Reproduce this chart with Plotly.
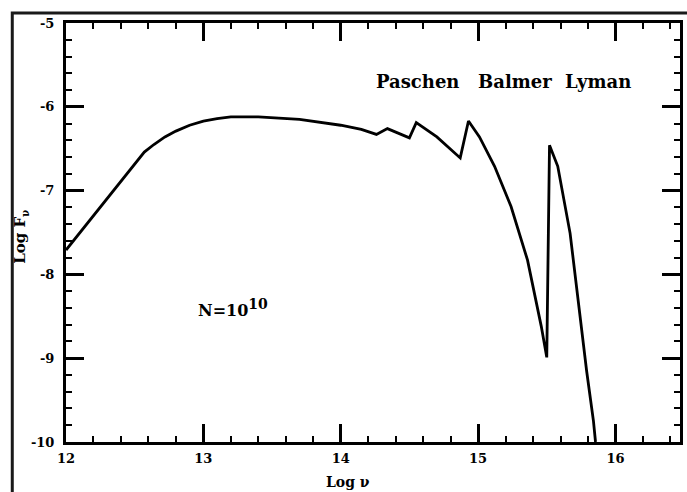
import plotly.graph_objects as go

# Spectrum: Log nu vs Log F_nu
log_nu = [12.0, 12.3, 12.57, 12.64, 12.72, 12.8, 12.9, 13.0, 13.1, 13.2, 13.4, 13.7, 14.0, 14.15,
          14.26, 14.34, 14.5, 14.55, 14.7, 14.87, 14.93, 15.01, 15.12, 15.24,
          15.36, 15.46, 15.5, 15.52, 15.58, 15.67, 15.73, 15.79, 15.84, 15.855]
log_f = [-7.71, -7.09, -6.54, -6.45, -6.36, -6.29, -6.22, -6.17, -6.14, -6.12, -6.12, -6.15, -6.22, -6.27,
         -6.33, -6.26, -6.37, -6.19, -6.36, -6.61, -6.17, -6.36, -6.71, -7.19,
         -7.83, -8.62, -8.99, -6.46, -6.71, -7.51, -8.32, -9.15, -9.75, -10.0]

x_ticks = [12, 13, 14, 15, 16]
x_tick_text = ["12", "13", "14", "15", "16"]
y_ticks = [-10, -9, -8, -7, -6, -5]
y_tick_text = ["-10", "-9", "-8", "-7", "-6", "-5"]

series_labels = ["Paschen", "Balmer", "Lyman"]
series_label_x = [14.56, 15.27, 15.87]
series_label_y = -5.70

FONT = "DejaVu Serif"

fig = go.Figure()
fig.add_trace(go.Scatter(x=log_nu, y=log_f, mode="lines",
                         line=dict(color="black", width=2.8, shape="linear"),
                         showlegend=False, hoverinfo="skip"))

axis_common = dict(
    showline=True, linewidth=3, linecolor="black", mirror="allticks",
    ticks="inside", ticklen=18, tickwidth=2.5, tickcolor="black",
    showgrid=False, zeroline=False,
    tickfont=dict(family=FONT, size=13, color="black", weight="bold"),
)

fig.update_xaxes(range=[12, 16.47], tickvals=x_ticks, ticktext=x_tick_text,
                 minor=dict(dtick=0.2, ticks="inside", ticklen=6, tickwidth=2,
                            tickcolor="black", tick0=12),
                 ticklabelstandoff=2, **axis_common)
fig.update_yaxes(range=[-10, -5], tickvals=y_ticks, ticktext=y_tick_text,
                 minor=dict(dtick=0.2, ticks="inside", ticklen=6, tickwidth=2,
                            tickcolor="black", tick0=-10),
                 ticklabelstandoff=6, **axis_common)

annots = []
for lab, lx in zip(series_labels, series_label_x):
    annots.append(dict(x=lx, y=series_label_y, xref="x", yref="y", text=lab,
                       showarrow=False,
                       font=dict(family=FONT, size=18, color="black", weight="bold")))
annots.append(dict(x=12.95, y=-8.40, xref="x", yref="y", xanchor="left",
                   text="N=10<sup><span style='font-size:14px'>10</span></sup>",
                   showarrow=False,
                   font=dict(family=FONT, size=16, color="black", weight="bold")))
annots.append(dict(x=14.05, y=-0.096, xref="x", yref="paper", text="Log ν",
                   xanchor="center", yanchor="middle", showarrow=False,
                   font=dict(family=FONT, size=14, color="black", weight="bold")))
annots.append(dict(x=-0.073, y=0.49, xref="paper", yref="paper", text="Log F<sub>ν</sub>",
                   xanchor="center", yanchor="middle",
                   textangle=-90, showarrow=False,
                   font=dict(family=FONT, size=15, color="black", weight="bold")))

fig.update_layout(
    width=687, height=492,
    margin=dict(l=66, r=4, t=23, b=50),
    paper_bgcolor="white", plot_bgcolor="white",
    annotations=annots,
    shapes=[dict(type="rect", xref="paper", yref="paper",
                 x0=-0.0875, x1=1.2, y0=-0.3, y1=1.024,
                 line=dict(color="#1a1a1a", width=3), layer="above")],
)

fig.write_html("out.html")
